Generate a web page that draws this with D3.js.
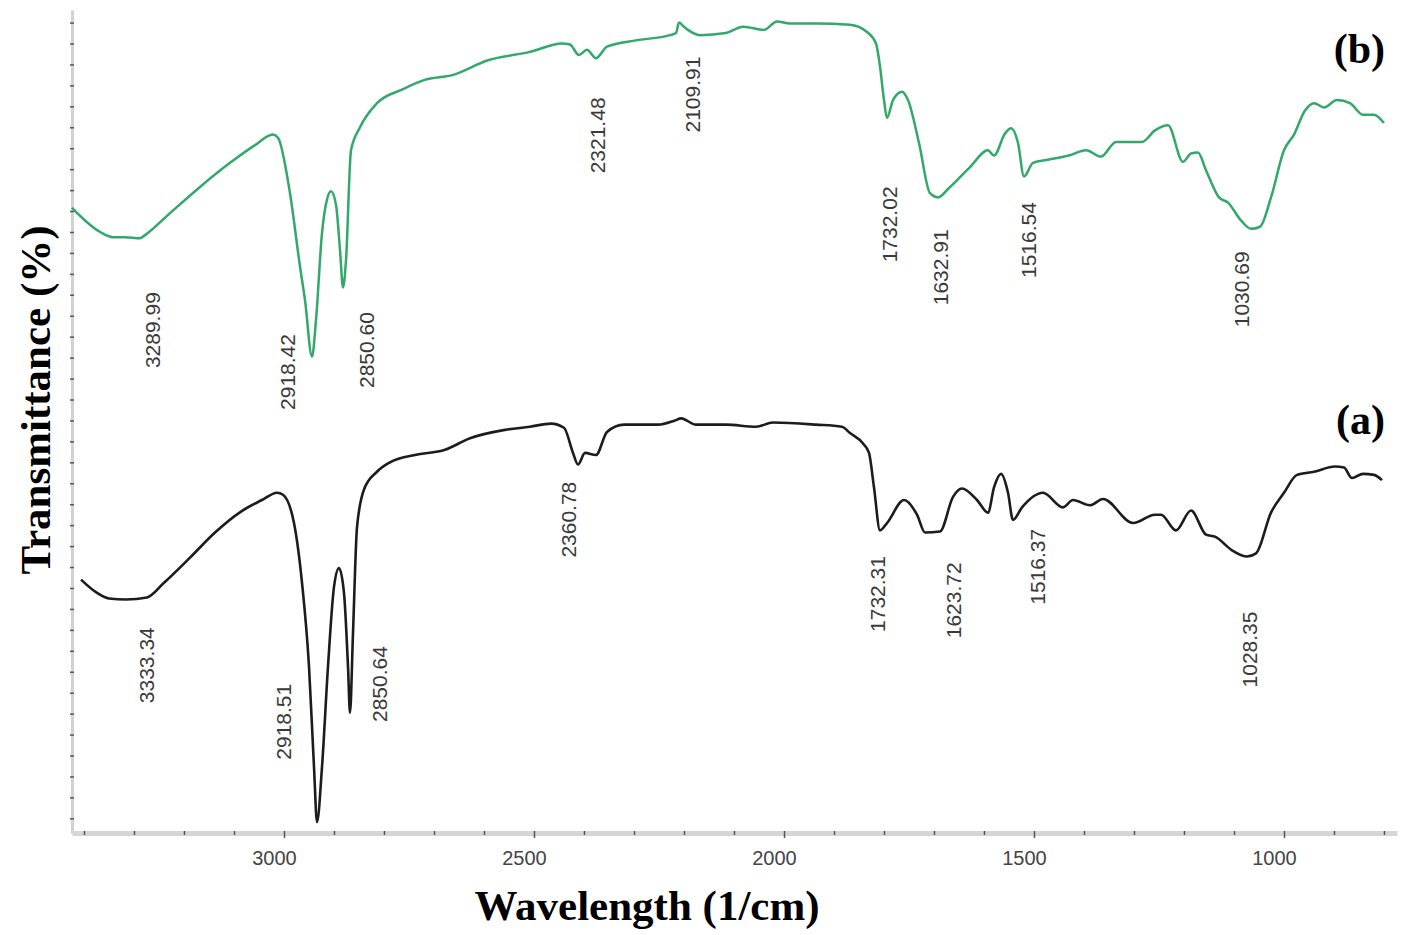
<!DOCTYPE html>
<html>
<head>
<meta charset="utf-8">
<script src="https://cdn.jsdelivr.net/npm/d3@7"></script>
<style>
  body { margin: 0; background: #fff; }
  svg { display: block; }
</style>
</head>
<body>
<svg id="chart" width="1402" height="935"></svg>
<script>
// spectrum (b), green
const waveB = [3424,3398,3368,3342,3318,3288,3278,3228,3168,3108,3058,3022,3012,2988,2968,2958,2944,2936,2924,2914,2906,2896,2888,2882,2876,2866,2848,2814,2764,2720,2662,2592,2508,2444,2428,2410,2394,2376,2354,2296,2228,2216,2210,2200,2192,2168,2116,2082,2040,2014,1988,1936,1868,1834,1816,1808,1800,1794,1782,1764,1752,1730,1708,1692,1670,1628,1592,1580,1558,1546,1532,1520,1502,1472,1430,1396,1366,1336,1284,1258,1232,1202,1186,1172,1156,1130,1112,1086,1066,1048,1026,1000,980,958,940,920,894,868,842,820,800];
const transB = [60.3,59.1,58.0,57.5,57.5,57.4,57.7,59.8,62.3,64.6,66.3,67.3,67.0,61.7,54.7,51.5,46.1,49.6,57.9,61.1,61.9,60.6,56.3,52.7,55.3,65.8,68.0,70.3,71.6,72.5,73.0,74.4,75.2,76.0,75.9,74.9,75.4,74.6,75.7,76.3,76.8,77.0,78.0,77.6,77.3,76.8,77.0,77.6,77.3,78.1,77.9,77.9,77.8,77.1,76.0,73.8,70.6,68.9,70.6,71.4,70.6,66.5,61.7,61.3,62.2,64.2,65.8,65.3,67.4,67.9,66.5,63.3,64.6,64.9,65.3,65.8,65.2,66.6,66.6,67.7,68.2,64.7,65.5,65.6,63.9,61.3,60.8,59.1,58.3,58.5,61.3,65.8,67.3,69.6,70.3,69.9,70.6,70.3,69.2,69.2,68.4];

// spectrum (a), black
const waveA = [3406,3376,3350,3316,3274,3240,3188,3138,3086,3044,3014,3002,2980,2964,2950,2940,2934,2924,2912,2900,2890,2880,2872,2868,2862,2854,2840,2814,2788,2738,2678,2628,2558,2508,2466,2440,2422,2412,2398,2376,2354,2320,2252,2218,2206,2176,2116,2056,2022,1936,1884,1868,1842,1830,1820,1808,1794,1760,1734,1718,1688,1662,1644,1614,1592,1580,1566,1552,1542,1524,1482,1442,1422,1388,1362,1302,1258,1246,1216,1186,1156,1138,1104,1074,1056,1026,1000,974,940,898,880,864,842,820,804];
const transA = [24.8,23.6,23.0,22.9,23.1,24.5,26.9,29.3,31.3,32.4,33.1,32.9,30.2,24.5,16.5,6.9,1.65,6.9,16.5,24.1,25.9,23.5,16.5,12.1,19.7,29.8,33.4,35.1,36.0,36.7,37.2,38.3,39.1,39.4,39.7,39.3,36.9,35.8,36.9,36.7,38.9,39.6,39.6,40.0,40.2,39.6,39.6,39.4,39.8,39.6,39.4,38.8,37.8,36.9,33.6,29.5,30.2,32.4,31.0,29.3,29.4,32.7,33.5,32.4,31.2,33.6,34.9,33.1,30.5,31.7,33.1,31.7,32.4,31.9,32.5,30.2,31.0,31.0,29.5,31.4,29.1,28.9,27.6,27.0,27.3,31.2,33.1,34.8,35.1,35.6,35.5,34.5,34.9,34.8,34.3];

// peak annotations: text, anchor wavenumber, anchor transmittance (bottom of label)
const peakTextB = ["3289.99","2918.42","2850.60","2321.48","2109.91","1732.02","1632.91","1516.54","1030.69"];
const peakWaveB = [3264,2994,2836,2374,2184,1790,1688,1512,1086];
const peakTransB = [45.0,41.0,43.1,63.6,67.5,55.1,51.0,53.6,48.9];

const peakTextA = ["3333.34","2918.51","2850.64","2360.78","1732.31","1623.72","1516.37","1028.35"];
const peakWaveA = [3276,3002,2810,2432,1814,1662,1494,1070];
const peakTransA = [13.0,7.6,11.2,26.9,19.8,19.2,22.4,14.5];

const seriesNames = ["(b)", "(a)"];
const seriesNameWave = [798, 798];
const seriesNameTrans = [74.1, 38.7];

const xTicks = d3.range(800, 3401, 100);
const yTicks = d3.range(2, 79, 2);

const svg = d3.select("#chart");
const plotLeft = 72, plotRight = 1397, plotTop = 10, plotBottom = 833;

const x = d3.scaleLinear().domain([3424, 774]).range([plotLeft, plotRight]);
const y = d3.scaleLinear().domain([0.6, 79.2]).range([plotBottom, plotTop]);

// y axis
const yAxis = svg.append("g")
    .attr("transform", "translate(" + plotLeft + ",0)")
    .call(d3.axisLeft(y).tickValues(yTicks).tickFormat("").tickSizeOuter(0));
yAxis.select(".domain").attr("stroke", "#d2d2d2").attr("stroke-width", 3);
yAxis.selectAll(".tick line").attr("x1", -2).attr("x2", 2).attr("stroke", "#555").attr("stroke-width", 1.5);

// x axis
const xAxis = svg.append("g")
    .attr("transform", "translate(0," + plotBottom + ")")
    .call(d3.axisBottom(x).tickValues(xTicks)
        .tickFormat(d => d % 500 === 0 ? d : "").tickSizeOuter(0));
xAxis.select(".domain").attr("stroke", "#d6d6d6").attr("stroke-width", 5);
xAxis.selectAll(".tick line")
    .attr("y1", -2)
    .attr("y2", d => d % 500 === 0 ? 5 : 2)
    .attr("stroke", "#555").attr("stroke-width", 1.5);
xAxis.selectAll(".tick text")
    .attr("y", 18).attr("dx", -10)
    .attr("fill", "#444")
    .style("font-family", "'Liberation Sans', Arial, sans-serif")
    .style("font-size", "20px");

// spectra
const line = d3.line().x(d => x(d[0])).y(d => y(d[1])).curve(d3.curveMonotoneX);

svg.append("path")
    .datum(d3.zip(waveB, transB))
    .attr("d", line)
    .attr("fill", "none")
    .attr("stroke", "#33a86b")
    .attr("stroke-width", 2.5)
    .attr("stroke-linejoin", "round");

svg.append("path")
    .datum(d3.zip(waveA, transA))
    .attr("d", line)
    .attr("fill", "none")
    .attr("stroke", "#1c1c1c")
    .attr("stroke-width", 2.6)
    .attr("stroke-linejoin", "round");

// peak labels
function peakLabels(texts, waves, trans) {
    svg.append("g").selectAll("text")
        .data(d3.zip(texts, waves, trans))
        .enter().append("text")
        .attr("transform", d => "translate(" + x(d[1]) + "," + y(d[2]) + ") rotate(-90)")
        .attr("dy", "0.36em")
        .attr("text-anchor", "start")
        .attr("fill", "#3a3a3a")
        .style("font-family", "'Liberation Sans', Arial, sans-serif")
        .style("font-size", "21px")
        .text(d => d[0]);
}
peakLabels(peakTextB, peakWaveB, peakTransB);
peakLabels(peakTextA, peakWaveA, peakTransA);

// series names
svg.append("g").selectAll("text")
    .data(d3.zip(seriesNames, seriesNameWave, seriesNameTrans))
    .enter().append("text")
    .attr("x", d => x(d[1]))
    .attr("y", d => y(d[2]))
    .attr("text-anchor", "end")
    .style("font-family", "'Liberation Serif', 'Times New Roman', serif")
    .style("font-weight", "bold")
    .style("font-size", "42px")
    .text(d => d[0]);

// axis titles
svg.append("text")
    .attr("x", 647).attr("y", 920)
    .attr("text-anchor", "middle")
    .style("font-family", "'Liberation Serif', 'Times New Roman', serif")
    .style("font-weight", "bold")
    .style("font-size", "43px")
    .text("Wavelength (1/cm)");

svg.append("text")
    .attr("transform", "translate(50,400) rotate(-90)")
    .attr("text-anchor", "middle")
    .style("font-family", "'Liberation Serif', 'Times New Roman', serif")
    .style("font-weight", "bold")
    .style("font-size", "43px")
    .text("Transmittance (%)");
</script>
</body>
</html>
